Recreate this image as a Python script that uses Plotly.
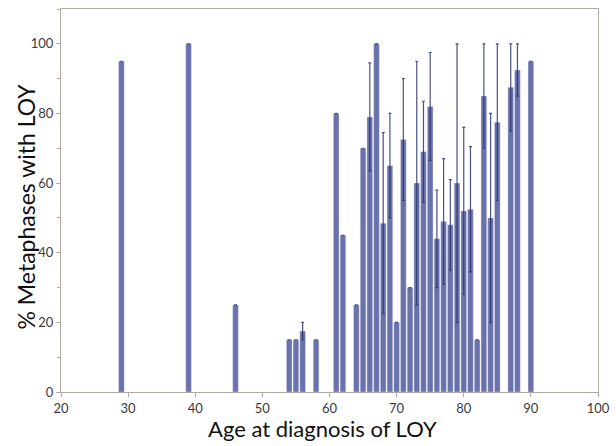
import plotly.graph_objects as go

ages = [29, 39, 46, 54, 55, 56, 58, 61, 62, 64, 65, 66, 67, 68, 69, 70, 71, 72, 73, 74,
        75, 76, 77, 78, 79, 80, 81, 82, 83, 84, 85, 87, 88, 90]
pct_loy = [95, 100, 25, 15, 15, 17.5, 15, 80, 45, 25, 70, 79, 100, 48.5, 65, 20, 72.5, 30, 60, 69,
           82, 44, 49, 48, 60, 52, 52.5, 15, 85, 50, 77.5, 87.5, 92.5, 95]
err = [0, 0, 0, 0, 0, 2.5, 0, 0, 0, 0, 0, 15.5, 0, 26, 15, 0, 17.5, 0, 35, 14.5,
       15.5, 14, 18, 13, 40, 24, 18, 0, 15, 30, 22.5, 12.5, 7.5, 0]

x_ticks = [20, 30, 40, 50, 60, 70, 80, 90, 100]
y_ticks = [0, 20, 40, 60, 80, 100]
x_title = "Age at diagnosis of LOY"
y_title = "% Metaphases with LOY"

fig = go.Figure()
fig.add_trace(go.Bar(
    x=ages, y=pct_loy, width=0.84,
    marker=dict(color="#6a72ab", line=dict(color="#e2e4f2", width=0.4)),
    error_y=dict(type="data", array=err, visible=True, color="rgba(45,50,110,0.85)",
                 thickness=1.2, width=1.5),
))

axis_col = "#b3aaa4"
fig.update_layout(
    width=616, height=446,
    margin=dict(l=61, r=18, t=9, b=54),
    plot_bgcolor="white", paper_bgcolor="white",
    font=dict(family="Lato, Open Sans, sans-serif", color="#333"),
    showlegend=False,
    xaxis=dict(range=[20, 100], tickvals=x_ticks, ticks="outside", ticklen=4, tickcolor=axis_col,
               showline=True, linecolor=axis_col, linewidth=1, mirror=True, showgrid=False,
               zeroline=False, tickfont=dict(size=13, color="#3a3a3a"), automargin=False),
    yaxis=dict(range=[0, 110], tickvals=y_ticks, ticks="outside", ticklen=4, tickcolor=axis_col,
               showline=True, linecolor=axis_col, linewidth=1, mirror=True, showgrid=False,
               zeroline=False, tickfont=dict(size=13, color="#3a3a3a"), automargin=False,
               minor=dict(tickvals=[10, 30, 50, 70, 90, 110], ticks="outside", ticklen=3, tickcolor=axis_col)),
    annotations=[
        dict(text=x_title, xref="paper", yref="paper", x=0.5, y=0, xanchor="center", yanchor="middle",
             xshift=-7, yshift=-36, showarrow=False, font=dict(size=22, color="#111")),
        dict(text=y_title, xref="paper", yref="paper", x=0, y=0.5, xanchor="center", yanchor="middle",
             textangle=-90, xshift=-36, yshift=-6, showarrow=False, font=dict(size=23, color="#111")),
    ],
)
fig.write_html("out.html", config={"displayModeBar": False},
               post_script="document.body.style.margin='0';")
